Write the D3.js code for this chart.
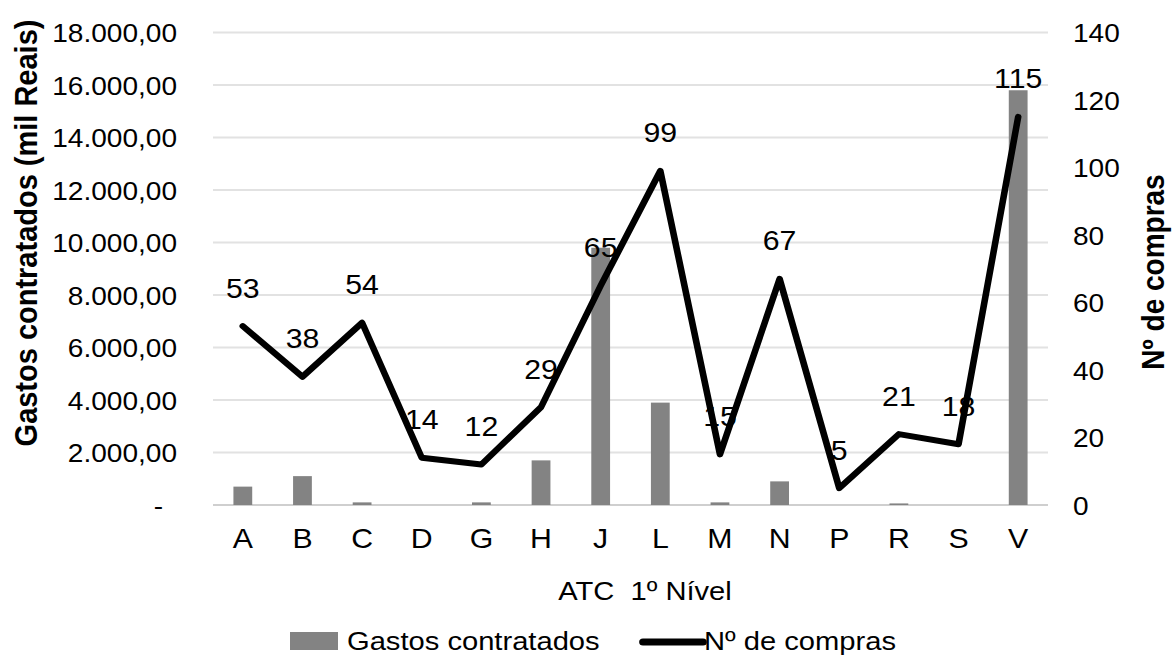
<!DOCTYPE html>
<html lang="pt-BR">
<head>
<meta charset="utf-8">
<title>Gastos contratados e Nº de compras por ATC 1º Nível</title>
<script src="https://cdn.jsdelivr.net/npm/d3@7"></script>
<style>
  html, body { margin: 0; padding: 0; background: #fff; }
  svg { display: block; }
  text { font-family: "Liberation Sans", Arial, sans-serif; fill: #000; }
</style>
</head>
<body>
<svg id="chart" width="1173" height="657"></svg>
<script>
// ATC 1st-level groups
const categories = ["A", "B", "C", "D", "G", "H", "J", "L", "M", "N", "P", "R", "S", "V"];
// Contracted spending (thousand R$)
const gastos = [700, 1100, 100, 0, 100, 1700, 9800, 3900, 100, 900, 0, 60, 0, 15800];
// Number of purchases
const compras = [53, 38, 54, 14, 12, 29, 65, 99, 15, 67, 5, 21, 18, 115];
// Axis ticks
const leftTicks = [0, 2000, 4000, 6000, 8000, 10000, 12000, 14000, 16000, 18000];
const rightTicks = [0, 20, 40, 60, 80, 100, 120, 140];

const W = 1173, H = 657;
const K = 1.1;                 // slight horizontal widening of the whole drawing
const X = v => v / K;          // page pixel x -> local x

const plot = { left: 213, right: 1048, top: 32.5, bottom: 505 };

const ptBR = d3.formatLocale({ decimal: ",", thousands: ".", grouping: [3], currency: ["R$", ""] });
const fmtMoney = ptBR.format(",.2f");

const svg = d3.select("#chart");
const root = svg.append("g").attr("transform", `scale(${K},1)`);

const x = d3.scaleBand()
  .domain(categories)
  .range([X(plot.left), X(plot.right)])
  .paddingInner(0.685)
  .paddingOuter(0.3425);
const yL = d3.scaleLinear().domain([0, 18000]).range([plot.bottom, plot.top]);
const yR = d3.scaleLinear().domain([0, 140]).range([plot.bottom, plot.top]);
const cx = c => x(c) + x.bandwidth() / 2;

// Horizontal gridlines
root.append("g")
  .selectAll("line")
  .data(leftTicks.filter(t => t > 0))
  .join("line")
  .attr("x1", X(plot.left)).attr("x2", X(plot.right))
  .attr("y1", d => yL(d)).attr("y2", d => yL(d))
  .attr("stroke", "#e2e2e2").attr("stroke-width", 2);

// Category axis line
root.append("line")
  .attr("x1", X(plot.left)).attr("x2", X(plot.right))
  .attr("y1", plot.bottom).attr("y2", plot.bottom)
  .attr("stroke", "#cfcfcf").attr("stroke-width", 2);

// Bars: contracted spending
root.append("g")
  .selectAll("rect")
  .data(categories.map((c, i) => ({ c, v: gastos[i] })))
  .join("rect")
  .attr("x", d => x(d.c))
  .attr("width", x.bandwidth())
  .attr("y", d => yL(d.v))
  .attr("height", d => yL(0) - yL(d.v))
  .attr("fill", "#838383");

// Left axis
const axL = root.append("g")
  .attr("transform", `translate(${X(177)},0)`)
  .call(d3.axisLeft(yL).tickValues(leftTicks).tickSize(0).tickPadding(0)
    .tickFormat(d => d === 0 ? "-" : fmtMoney(d)));
axL.select(".domain").remove();
axL.selectAll("text")
  .attr("font-size", 25.5)
  .attr("font-family", null)
  .attr("fill", "#000")
  .attr("dy", "0.36em");
axL.selectAll(".tick").filter(d => d === 0).select("text").attr("x", X(-14));

// Right axis
const axR = root.append("g")
  .attr("transform", `translate(${X(1073)},0)`)
  .call(d3.axisRight(yR).tickValues(rightTicks).tickSize(0).tickPadding(0));
axR.select(".domain").remove();
axR.selectAll("text")
  .attr("font-size", 25.5)
  .attr("font-family", null)
  .attr("fill", "#000")
  .attr("dy", "0.36em");

// Category axis labels
const axB = root.append("g")
  .attr("transform", `translate(0,${plot.bottom})`)
  .call(d3.axisBottom(x).tickSize(0).tickPadding(0));
axB.select(".domain").remove();
axB.selectAll("text")
  .attr("font-size", 27.5)
  .attr("font-family", null)
  .attr("fill", "#000")
  .attr("y", 43)
  .attr("dy", 0);

// Data labels for Nº de compras
root.append("g")
  .selectAll("text")
  .data(categories.map((c, i) => ({ c, v: compras[i] })))
  .join("text")
  .attr("x", d => cx(d.c))
  .attr("y", d => yR(d.v) - 28.5)
  .attr("text-anchor", "middle")
  .attr("font-size", 27.5)
  .text(d => d.v);

// Line: Nº de compras
const line = d3.line()
  .x((d, i) => cx(categories[i]))
  .y(d => yR(d));
root.append("path")
  .datum(compras)
  .attr("d", line)
  .attr("fill", "none")
  .attr("stroke", "#000")
  .attr("stroke-width", 6)
  .attr("stroke-linejoin", "round")
  .attr("stroke-linecap", "round");

// Axis titles
root.append("text")
  .attr("transform", `translate(${X(37)},233) rotate(-90)`)
  .attr("text-anchor", "middle")
  .attr("font-size", 29)
  .attr("font-weight", "bold")
  .text("Gastos contratados (mil Reais)");

root.append("text")
  .attr("transform", `translate(${X(1164)},272) rotate(-90)`)
  .attr("text-anchor", "middle")
  .attr("font-size", 28)
  .attr("font-weight", "bold")
  .text("Nº de compras");

root.append("text")
  .attr("x", X(645))
  .attr("y", 600)
  .attr("text-anchor", "middle")
  .attr("font-size", 26.5)
  .attr("xml:space", "preserve")
  .style("white-space", "pre")
  .text("ATC  1º Nível");

// Legend
const lg = root.append("g");
lg.append("rect")
  .attr("x", X(290)).attr("y", 632)
  .attr("width", X(48)).attr("height", 18)
  .attr("fill", "#838383");
lg.append("text")
  .attr("x", X(347)).attr("y", 650)
  .attr("font-size", 26.5)
  .text("Gastos contratados");
lg.append("line")
  .attr("x1", X(643)).attr("x2", X(703))
  .attr("y1", 642).attr("y2", 642)
  .attr("stroke", "#000").attr("stroke-width", 7)
  .attr("stroke-linecap", "round");
lg.append("text")
  .attr("x", X(704)).attr("y", 650)
  .attr("font-size", 26.5)
  .text("Nº de compras");
</script>
</body>
</html>
